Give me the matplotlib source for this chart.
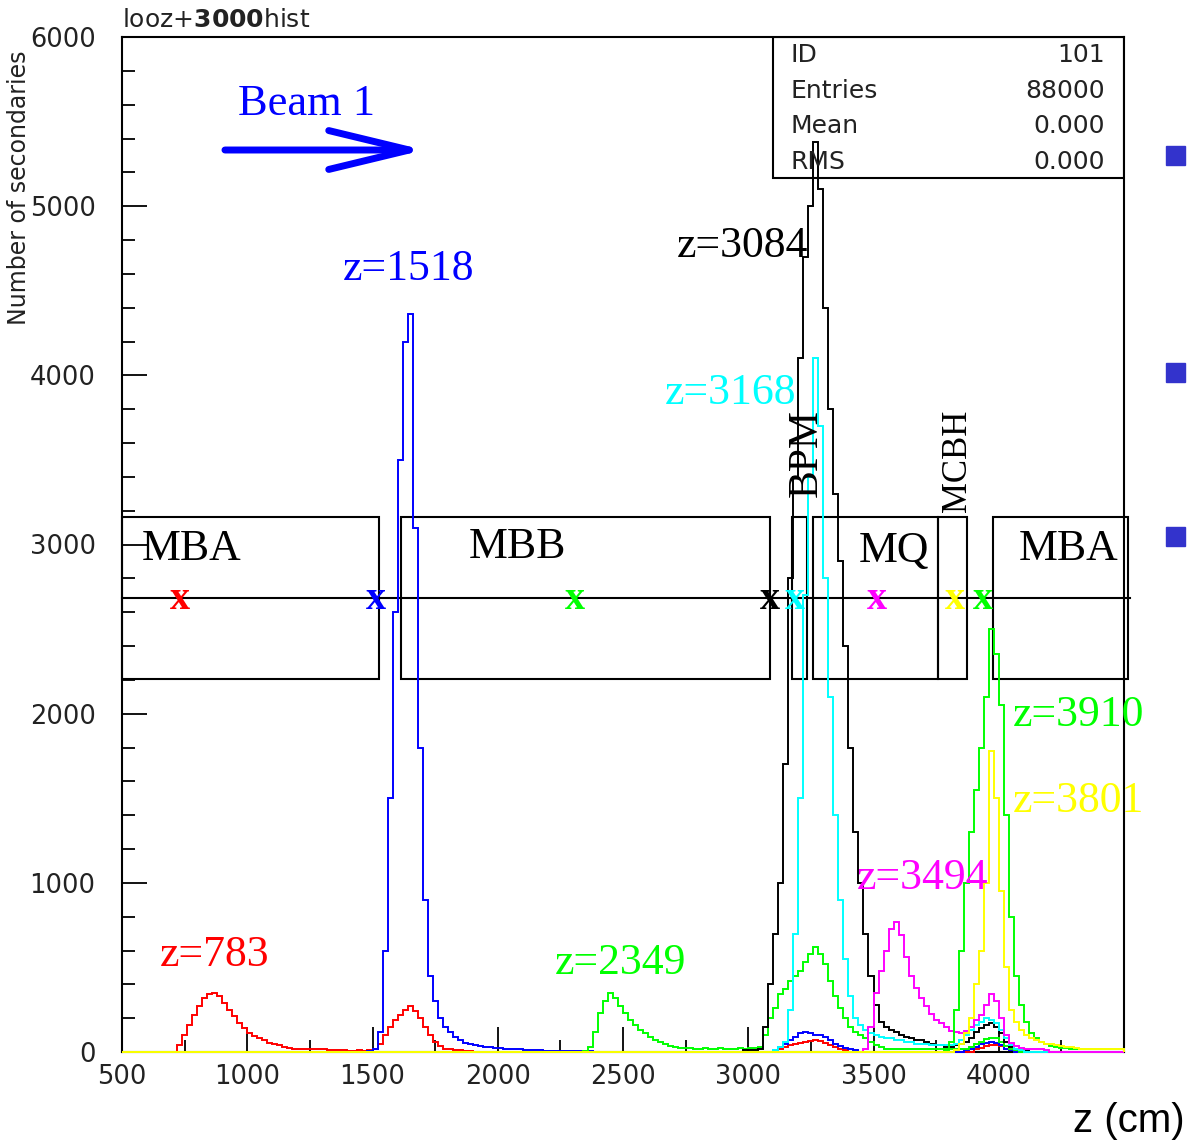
import numpy as np
import matplotlib
matplotlib.use("Agg")
import matplotlib.pyplot as plt
from matplotlib.patches import Rectangle

# ---------------- data ----------------
Z_MIN, Z_MAX, BIN = 500, 4500, 20

# each series: list of (start z of first bin, bin contents)
red_783 = [
    (720, [40, 100, 160, 220, 270, 320, 340, 350, 330, 290, 250, 210, 170, 140, 115, 95, 80, 70, 55, 45,
           40, 30, 25, 20, 20, 20, 15, 20, 15, 15, 10, 10, 10, 10, 8, 8, 10, 8, 10]),
    (1500, [20, 50, 100, 150, 190, 220, 250, 270, 240, 200, 150, 100, 60, 35, 20, 15, 10, 10, 5, 5]),
    (3120, [20, 30, 40, 50, 55, 60, 65, 70, 65, 55, 40, 30, 20, 10]),
    (3900, [15, 25, 35, 40, 40, 35, 20, 10]),
]
blue_1518 = [
    (1480, [5, 20, 120, 600, 1500, 2600, 3500, 4200, 4360, 3100, 1800, 900, 450, 300, 200, 150, 120, 90,
            70, 55, 45, 40, 35, 30, 30, 25, 25, 20, 20, 15, 15, 10, 10, 10, 10]),
    (2180, [8, 5, 5, 8, 5, 5, 5, 8, 5, 5]),
    (3100, [10, 30, 50, 70, 90, 110, 120, 110, 100, 100, 90, 70, 50, 35, 25, 15, 10]),
    (3860, [10, 20, 30, 45, 55, 60, 55, 40, 20, 10]),
]
green_2349 = [
    (2340, [5, 30, 120, 230, 300, 350, 320, 270, 230, 190, 160, 130, 110, 90, 70, 60, 45, 35, 30, 25]),
    (2740, [25, 25, 20, 20, 25, 20, 20, 25, 20, 20, 20, 25, 20, 25, 25, 30]),
    (3060, [100, 200, 260, 340, 370, 420, 450, 480, 530, 580, 620, 580, 520, 420, 330, 260, 200, 150,
            120, 100, 80, 60, 40, 30]),
    (3540, [20, 20, 20, 15, 15, 15, 15, 15, 15, 15, 15, 15, 15, 15, 15, 15, 20, 30, 45, 60, 75, 85, 80,
            60, 35, 20, 10]),
]
black_3084 = [
    (2980, [10, 10, 10, 20, 150, 400, 700, 1000, 1700, 2800, 3400, 4100, 4700, 5000, 5380, 5100, 4400,
            3800, 3300, 2900, 2400, 1800, 1300, 1000, 700, 450, 280, 180]),
    (3540, [150, 130, 120, 100, 90, 80, 70, 70, 60, 50, 40, 40, 30, 30]),
    (3820, [40, 50, 60, 80, 120, 140, 160, 170, 150, 110, 60, 30, 20, 10, 10]),
]
cyan_3168 = [
    (3100, [10, 30, 60, 250, 700, 1500, 2700, 3400, 4100, 3700, 2800, 2100, 1400, 900, 550, 330, 200,
            160, 130, 110, 100, 90, 80, 80, 70, 70, 60, 60, 50, 50, 50, 40, 40, 40, 40, 40, 50, 70, 100,
            130, 160, 180, 200, 190, 170, 130, 80, 40, 20, 10]),
]
magenta_3494 = [
    (3460, [20, 150, 350, 480, 600, 730, 770, 690, 560, 450, 380, 320, 270, 225, 190, 170, 145, 125, 120,
            115, 125, 150, 190, 220, 280, 340, 300, 200, 100, 55, 35, 25, 20, 20, 15, 15, 10]),
]
green_3910 = [
    (3780, [10, 60, 250, 600, 1000, 1300, 1550, 1800, 2100, 2500, 2350, 2050, 1400, 800, 450, 280, 180,
            110, 80, 60, 45, 35, 30, 25, 25, 20, 20, 20, 15, 15, 15, 15, 15, 15, 15, 15]),
]
yellow_3801 = [
    (3820, [10, 50, 110, 200, 400, 600, 1000, 1780, 1500, 950, 500, 250, 180, 130, 100, 85, 70, 60, 50,
            45, 40, 35, 30, 30, 25, 20, 20, 20, 20, 20, 20, 20, 20, 20]),
]

series_order = [
    ("red", red_783), ("#0000FF", blue_1518), ("#00FF00", green_2349), ("black", black_3084),
    ("#00FFFF", cyan_3168), ("#FF00FF", magenta_3494), ("#00FF00", green_3910), ("#FFFF00", yellow_3801),
]

# source labels: text, colour, z of left edge, y of baseline
z_labels = ["z=783", "z=1518", "z=2349", "z=3084", "z=3168", "z=3494", "z=3910", "z=3801"]
z_label_colors = ["red", "#0000FF", "#00FF00", "black", "#00FFFF", "#FF00FF", "#00FF00", "#FFFF00"]
z_label_x = [652, 1382, 2229, 2716, 2668, 3434, 4057, 4057]
z_label_y = [508, 4563, 461, 4699, 3830, 963, 1927, 1419]

# source markers along the beam line
marker_z = [732, 1514, 2308, 3087, 3187, 3514, 3825, 3937]
marker_colors = ["red", "#0000FF", "#00FF00", "black", "#00FFFF", "#FF00FF", "#FFFF00", "#00FF00"]
marker_y = 2619

# beam-line elements: name, z start, z end
elements = ["MBA", "MBB", "BPM", "MQ", "MCBH", "MBA"]
element_z0 = [500, 1614, 3175, 3258, 3757, 3977]
element_z1 = [1526, 3087, 3235, 3757, 3873, 4517]
element_ybot, element_ytop, beam_y = 2205, 3163, 2684

# stats box
stat_names = ["ID", "Entries", "Mean", "RMS"]
stat_values = ["101", "88000", "0.000", "0.000"]


def build(segments):
    edges = np.arange(Z_MIN, Z_MAX + BIN, BIN)
    vals = np.zeros(len(edges) - 1)
    for start, seg in segments:
        i = (start - Z_MIN) // BIN
        vals[i:i + len(seg)] = seg
    return edges, vals


# ---------------- figure ----------------
W, H = 1190, 1143
fig = plt.figure(figsize=(W / 100, H / 100), dpi=100)
ax = fig.add_axes([122 / W, 1 - 1052 / H, (1124 - 122) / W, (1052 - 37) / H])

for color, segs in series_order:
    edges, vals = build(segs)
    ax.stairs(vals, edges, color=color, lw=1.4, zorder=3, clip_on=False)

ax.set_xlim(Z_MIN, Z_MAX)
ax.set_ylim(0, 6000)
ax.set_xticks(np.arange(500, 4001, 500))
ax.set_xticks(np.arange(750, 4500, 250), minor=True)
ax.set_yticks(np.arange(0, 6001, 1000))
ax.set_yticks(np.arange(0, 6001, 200), minor=True)
ax.tick_params(which="both", direction="in", top=False, right=False, width=1.3, colors="black")
ax.tick_params(which="major", length=18)
ax.tick_params(which="minor", length=9)
ax.tick_params(axis="y", pad=19, labelsize=18.5)
ax.tick_params(axis="x", pad=9, labelsize=18.5)
for lab in ax.get_xticklabels() + ax.get_yticklabels():
    lab.set_color("#222222")
for sp in ax.spines.values():
    sp.set_linewidth(1.5)

serif = "Liberation Serif"

# beam-line elements
for name, z0, z1 in zip(elements, element_z0, element_z1):
    ax.add_patch(Rectangle((z0, element_ybot), z1 - z0, element_ytop - element_ybot,
                           fill=False, lw=1.5, ec="black", clip_on=False))
ax.plot([500, 4525], [beam_y, beam_y], color="black", lw=1.5, clip_on=False)

ax.text(777, 2908, "MBA", family=serif, fontsize=31.5, ha="center", va="baseline")
ax.text(2077, 2920, "MBB", family=serif, fontsize=31.5, ha="center", va="baseline")
ax.text(3582, 2896, "MQ", family=serif, fontsize=31.5, ha="center", va="baseline")
ax.text(4280, 2908, "MBA", family=serif, fontsize=31.5, ha="center", va="baseline")
ax.text(3232, 3281, "BPM", family=serif, fontsize=30, ha="center", va="bottom", rotation=90)
ax.text(3837, 3192, "MCBH", family=serif, fontsize=25, ha="center", va="bottom", rotation=90)

for z, c in zip(marker_z, marker_colors):
    ax.text(z, marker_y, "x", family=serif, fontsize=29, fontweight="bold", color=c,
            ha="center", va="baseline")

for t, c, x, y in zip(z_labels, z_label_colors, z_label_x, z_label_y):
    ax.text(x, y, t, family=serif, fontsize=31.5, color=c, ha="left", va="baseline")

# beam direction
ax.text(963, 5539, "Beam 1", family=serif, fontsize=32, color="#0000FF", ha="left", va="baseline")
ax.annotate("", xy=(1706, 5332), xytext=(911, 5332),
            arrowprops=dict(arrowstyle="->,head_length=2.9,head_width=0.7",
                            color="#0000FF", lw=5, mutation_scale=20, shrinkA=0, shrinkB=0))

# stats box
x0 = (773 - 122) / 1002
y0 = (1052 - 178) / 1015
ax.add_patch(Rectangle((x0, y0), 1 - x0, 1 - y0, transform=ax.transAxes, fill=False, lw=1.5,
                       ec="black", zorder=5))
row_y = [0.982, 0.947, 0.912, 0.877]
for n, v, ry in zip(stat_names, stat_values, row_y):
    ax.text(0.667, ry, n, transform=ax.transAxes, fontsize=18, ha="left", va="center", color="#222222")
    ax.text(0.981, ry, v, transform=ax.transAxes, fontsize=18, ha="right", va="center", color="#222222")

# garbled title (overprinted digits rendered bold)
fig.text(122 / W, 1 - 20 / H, r"looz+$\mathbf{3000}$hist", fontsize=18, ha="left", va="center",
         color="#222222")

# y-axis label
fig.text(19 / W, 1 - 188 / H, "Number of secondaries", rotation=90, fontsize=17,
         ha="center", va="center", color="#222222")

# x-axis unit label
fig.text(1185 / W, 1 - 1121 / H, "z (cm)", family="Liberation Sans", fontsize=29,
         ha="right", va="center")

# slide bullets at the right edge
for yb in [146, 363, 527]:
    fig.patches.append(Rectangle((1166 / W, 1 - (yb + 19) / H), 19 / W, 19 / H,
                                 transform=fig.transFigure, color="#3333CC", figure=fig))

fig.savefig("out.png", dpi=100)
